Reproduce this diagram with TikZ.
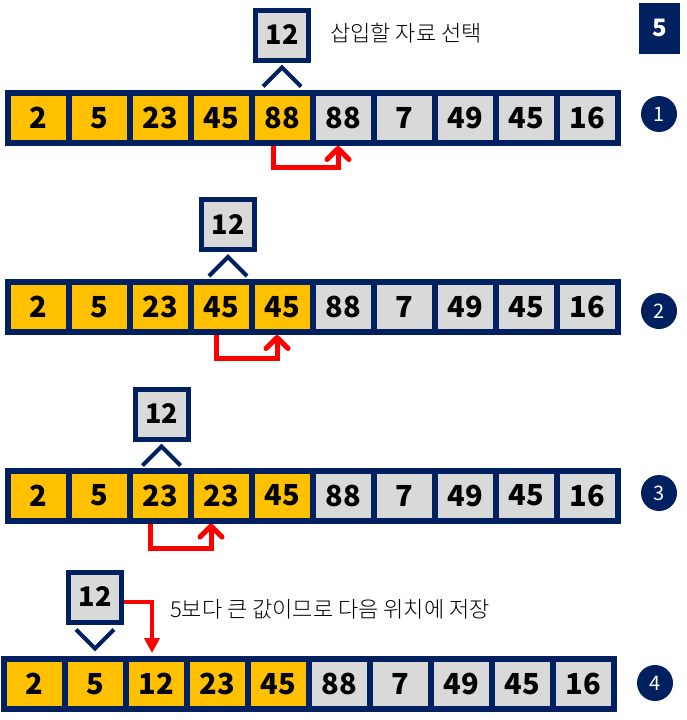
\documentclass[tikz,border=0pt]{standalone}
\usepackage{fontspec}
\setmainfont{Noto Sans CJK KR}
\newfontfamily\thinfont{Noto Sans CJK KR Light}
\usetikzlibrary{arrows.meta}
\definecolor{navy}{RGB}{0,32,96}
\definecolor{cellgold}{RGB}{255,192,0}
\definecolor{cellgrey}{RGB}{217,217,217}
\definecolor{movered}{RGB}{255,0,0}

\begin{document}
\begin{tikzpicture}
[x=1pt,y=-1pt,%
  every node/.style={inner sep=0pt},%
  cell/.style={draw=navy,line width=6pt,minimum width=61pt,minimum height=50pt,
    font=\fontsize{29}{29}\selectfont\bfseries},%
  gold/.style={cell,fill=cellgold},%
  grey/.style={cell,fill=cellgrey},%
  keybox/.style={draw=navy,line width=5pt,fill=cellgrey,minimum width=53pt,
    minimum height=50pt,font=\fontsize{27}{27}\selectfont\bfseries},%
  caret/.style={draw=navy,line width=4pt},%
  moveline/.style={draw=movered,line width=5pt,-{Straight Barb[length=11pt,width=22pt,round]}},%
  stepmark/.style={circle,fill=navy,text=white,minimum size=36pt,
    font=\fontsize{20}{20}\selectfont},%
  note/.style={anchor=west,font=\fontsize{22}{22}\thinfont}]
\useasboundingbox (0,0) rectangle (686,720);
% the four states of the array
\foreach \r/\x/\y/\vals in {1/38.5/118/{2,5,23,45,88,88,7,49,45,16},
    2/38.5/307/{2,5,23,45,45,88,7,49,45,16},
    3/38.5/495.5/{2,5,23,23,45,88,7,49,45,16},
    4/34.5/684/{2,5,12,23,45,88,7,49,45,16}}
  \foreach \v [count=\i] in \vals {
    \ifnum\i<6 \def\s{gold}\else\def\s{grey}\fi
    \node[\s] (r\r c\i) at ({\x+61*(\i-1)},\y) {\v};
  }
% the value being inserted
\node[keybox] (k1) at (282,35) {12};
\node[keybox] (k2) at (228,224.5) {12};
\node[keybox] (k3) at (161.5,414) {12};
\node[keybox] (k4) at (95,597) {12};
\foreach \k in {1,2,3}
  \draw[caret] ([xshift=-19pt,yshift=-24pt]k\k.south) -- ([yshift=-5pt]k\k.south)
    -- ([xshift=19pt,yshift=-24pt]k\k.south);
\draw[caret] ([xshift=-19pt,yshift=-5pt]k4.south) -- ([yshift=-24pt]k4.south)
  -- ([xshift=19pt,yshift=-5pt]k4.south);
% shifts to the right
\draw[moveline] ([xshift=-9.5pt]r1c5.south) -- ++(0,21) -| ([xshift=-5.5pt]r1c6.south);
\draw[moveline] ([xshift=-5.5pt]r2c4.south) -- ++(0,23) -| ([xshift=-5.5pt]r2c5.south);
\draw[moveline] ([xshift=-10.5pt]r3c3.south) -- ++(0,25) -| ([xshift=-10.5pt]r3c4.south);
\draw[draw=movered,line width=4.5pt,-{Triangle[length=15pt,width=15pt]}]
  ([yshift=-5pt]k4.east) -| ([xshift=-4.5pt,yshift=3pt]r4c3.north);
% step numbers
\node[stepmark] (s1) at (659,114) {1};
\node[stepmark] (s2) at (659,311) {2};
\node[stepmark] (s3) at (659,493) {3};
\node[stepmark] (s4) at (655,683) {4};
\node[fill=navy,text=white,minimum width=41pt,minimum height=51pt,
  font=\fontsize{24}{24}\selectfont\bfseries] (part) at (659.5,28) {5};
% notes
\node[note] (t1) at (330,33) {삽입할 자료 선택};
\node[note] (t2) at (170,609) {5보다 큰 값이므로 다음 위치에 저장};
\end{tikzpicture}
\end{document}
